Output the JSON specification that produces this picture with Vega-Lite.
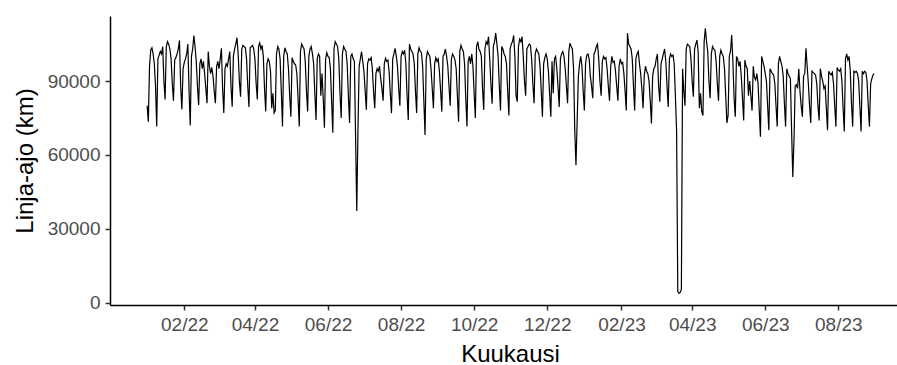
{
"$schema": "https://vega.github.io/schema/vega-lite/v6.json",
"width": 787, "height": 289,
"autosize": {"type": "none"},
"padding": {"left": 110, "top": 16, "right": 0, "bottom": 60},
"background": "white",
"config": {"view": {"stroke": null}, "axis": {"grid": false, "domainColor": "#000000", "domainWidth": 1.5, "tickColor": "#333333", "tickWidth": 1.5, "tickSize": 5, "labelColor": "#4D4D4D", "labelFont": "Liberation Sans", "labelFontSize": 19, "titleFont": "Liberation Sans", "titleFontSize": 24, "titleFontWeight": "normal", "titleColor": "#000000"}},
"data": {"values": [
{"date":"2022-01-01","km":80000},{"date":"2022-01-02","km":73500},{"date":"2022-01-03","km":96000},{"date":"2022-01-04","km":102500},{"date":"2022-01-05","km":103500},{"date":"2022-01-06","km":101000},{"date":"2022-01-07","km":97000},{"date":"2022-01-08","km":88000},{"date":"2022-01-09","km":71500},{"date":"2022-01-10","km":99000},{"date":"2022-01-11","km":100500},{"date":"2022-01-12","km":102000},{"date":"2022-01-13","km":101000},{"date":"2022-01-14","km":104000},{"date":"2022-01-15","km":90000},{"date":"2022-01-16","km":82500},{"date":"2022-01-17","km":104000},{"date":"2022-01-18","km":106000},{"date":"2022-01-19","km":105000},{"date":"2022-01-20","km":103000},{"date":"2022-01-21","km":99000},{"date":"2022-01-22","km":89000},{"date":"2022-01-23","km":82000},{"date":"2022-01-24","km":98500},{"date":"2022-01-25","km":99500},{"date":"2022-01-26","km":101000},{"date":"2022-01-27","km":103000},{"date":"2022-01-28","km":106500},{"date":"2022-01-29","km":88000},{"date":"2022-01-30","km":78500},{"date":"2022-01-31","km":95000},
{"date":"2022-02-01","km":97500},{"date":"2022-02-02","km":99000},{"date":"2022-02-03","km":101000},{"date":"2022-02-04","km":105000},{"date":"2022-02-05","km":86000},{"date":"2022-02-06","km":72000},{"date":"2022-02-07","km":100000},{"date":"2022-02-08","km":103000},{"date":"2022-02-09","km":108500},{"date":"2022-02-10","km":104000},{"date":"2022-02-11","km":98000},{"date":"2022-02-12","km":88000},{"date":"2022-02-13","km":80300},{"date":"2022-02-14","km":97000},{"date":"2022-02-15","km":99000},{"date":"2022-02-16","km":95000},{"date":"2022-02-17","km":98000},{"date":"2022-02-18","km":93000},{"date":"2022-02-19","km":87000},{"date":"2022-02-20","km":81000},{"date":"2022-02-21","km":102000},{"date":"2022-02-22","km":96000},{"date":"2022-02-23","km":93000},{"date":"2022-02-24","km":95500},{"date":"2022-02-25","km":92000},{"date":"2022-02-26","km":86000},{"date":"2022-02-27","km":81000},{"date":"2022-02-28","km":96000},
{"date":"2022-03-01","km":98000},{"date":"2022-03-02","km":95000},{"date":"2022-03-03","km":99000},{"date":"2022-03-04","km":103300},{"date":"2022-03-05","km":87000},{"date":"2022-03-06","km":77000},{"date":"2022-03-07","km":95000},{"date":"2022-03-08","km":97000},{"date":"2022-03-09","km":96000},{"date":"2022-03-10","km":99000},{"date":"2022-03-11","km":102000},{"date":"2022-03-12","km":88000},{"date":"2022-03-13","km":79600},{"date":"2022-03-14","km":100000},{"date":"2022-03-15","km":103000},{"date":"2022-03-16","km":105000},{"date":"2022-03-17","km":107600},{"date":"2022-03-18","km":101000},{"date":"2022-03-19","km":90000},{"date":"2022-03-20","km":83600},{"date":"2022-03-21","km":103000},{"date":"2022-03-22","km":104500},{"date":"2022-03-23","km":104000},{"date":"2022-03-24","km":103500},{"date":"2022-03-25","km":99000},{"date":"2022-03-26","km":88000},{"date":"2022-03-27","km":79500},{"date":"2022-03-28","km":103500},{"date":"2022-03-29","km":104000},{"date":"2022-03-30","km":104500},{"date":"2022-03-31","km":103000},
{"date":"2022-04-01","km":99000},{"date":"2022-04-02","km":89000},{"date":"2022-04-03","km":82500},{"date":"2022-04-04","km":104000},{"date":"2022-04-05","km":105500},{"date":"2022-04-06","km":103000},{"date":"2022-04-07","km":104500},{"date":"2022-04-08","km":100000},{"date":"2022-04-09","km":87000},{"date":"2022-04-10","km":77600},{"date":"2022-04-11","km":97000},{"date":"2022-04-12","km":99000},{"date":"2022-04-13","km":98000},{"date":"2022-04-14","km":94000},{"date":"2022-04-15","km":79000},{"date":"2022-04-16","km":85000},{"date":"2022-04-17","km":77000},{"date":"2022-04-18","km":78000},{"date":"2022-04-19","km":101000},{"date":"2022-04-20","km":104000},{"date":"2022-04-21","km":103000},{"date":"2022-04-22","km":99000},{"date":"2022-04-23","km":86000},{"date":"2022-04-24","km":71500},{"date":"2022-04-25","km":100000},{"date":"2022-04-26","km":103500},{"date":"2022-04-27","km":102000},{"date":"2022-04-28","km":101000},{"date":"2022-04-29","km":95000},{"date":"2022-04-30","km":84000},
{"date":"2022-05-01","km":75500},{"date":"2022-05-02","km":99500},{"date":"2022-05-03","km":98000},{"date":"2022-05-04","km":97000},{"date":"2022-05-05","km":96500},{"date":"2022-05-06","km":93000},{"date":"2022-05-07","km":83000},{"date":"2022-05-08","km":71500},{"date":"2022-05-09","km":102000},{"date":"2022-05-10","km":105000},{"date":"2022-05-11","km":104000},{"date":"2022-05-12","km":103000},{"date":"2022-05-13","km":98000},{"date":"2022-05-14","km":86000},{"date":"2022-05-15","km":77600},{"date":"2022-05-16","km":100000},{"date":"2022-05-17","km":103000},{"date":"2022-05-18","km":104000},{"date":"2022-05-19","km":101000},{"date":"2022-05-20","km":97000},{"date":"2022-05-21","km":85000},{"date":"2022-05-22","km":74200},{"date":"2022-05-23","km":99000},{"date":"2022-05-24","km":101000},{"date":"2022-05-25","km":100000},{"date":"2022-05-26","km":84000},{"date":"2022-05-27","km":93000},{"date":"2022-05-28","km":83000},{"date":"2022-05-29","km":71000},{"date":"2022-05-30","km":99000},{"date":"2022-05-31","km":101500},
{"date":"2022-06-01","km":100000},{"date":"2022-06-02","km":99500},{"date":"2022-06-03","km":95000},{"date":"2022-06-04","km":82000},{"date":"2022-06-05","km":69000},{"date":"2022-06-06","km":103000},{"date":"2022-06-07","km":106000},{"date":"2022-06-08","km":105000},{"date":"2022-06-09","km":104000},{"date":"2022-06-10","km":99000},{"date":"2022-06-11","km":85000},{"date":"2022-06-12","km":75000},{"date":"2022-06-13","km":101000},{"date":"2022-06-14","km":104000},{"date":"2022-06-15","km":103000},{"date":"2022-06-16","km":102000},{"date":"2022-06-17","km":97000},{"date":"2022-06-18","km":84000},{"date":"2022-06-19","km":73000},{"date":"2022-06-20","km":100000},{"date":"2022-06-21","km":101000},{"date":"2022-06-22","km":99000},{"date":"2022-06-23","km":98000},{"date":"2022-06-24","km":68000},{"date":"2022-06-25","km":37200},{"date":"2022-06-26","km":70000},{"date":"2022-06-27","km":96000},{"date":"2022-06-28","km":99000},{"date":"2022-06-29","km":101900},{"date":"2022-06-30","km":98000},
{"date":"2022-07-01","km":94000},{"date":"2022-07-02","km":86000},{"date":"2022-07-03","km":78300},{"date":"2022-07-04","km":97000},{"date":"2022-07-05","km":99000},{"date":"2022-07-06","km":98500},{"date":"2022-07-07","km":99500},{"date":"2022-07-08","km":95000},{"date":"2022-07-09","km":86000},{"date":"2022-07-10","km":79000},{"date":"2022-07-11","km":93000},{"date":"2022-07-12","km":95000},{"date":"2022-07-13","km":94000},{"date":"2022-07-14","km":96000},{"date":"2022-07-15","km":91000},{"date":"2022-07-16","km":87000},{"date":"2022-07-17","km":82000},{"date":"2022-07-18","km":97000},{"date":"2022-07-19","km":99200},{"date":"2022-07-20","km":98000},{"date":"2022-07-21","km":98500},{"date":"2022-07-22","km":94000},{"date":"2022-07-23","km":85000},{"date":"2022-07-24","km":76900},{"date":"2022-07-25","km":99000},{"date":"2022-07-26","km":101000},{"date":"2022-07-27","km":103300},{"date":"2022-07-28","km":100000},{"date":"2022-07-29","km":96000},{"date":"2022-07-30","km":87000},{"date":"2022-07-31","km":80000},
{"date":"2022-08-01","km":100000},{"date":"2022-08-02","km":102000},{"date":"2022-08-03","km":101000},{"date":"2022-08-04","km":102500},{"date":"2022-08-05","km":97000},{"date":"2022-08-06","km":84000},{"date":"2022-08-07","km":74200},{"date":"2022-08-08","km":105000},{"date":"2022-08-09","km":103000},{"date":"2022-08-10","km":102000},{"date":"2022-08-11","km":101000},{"date":"2022-08-12","km":97000},{"date":"2022-08-13","km":86000},{"date":"2022-08-14","km":77000},{"date":"2022-08-15","km":101000},{"date":"2022-08-16","km":103500},{"date":"2022-08-17","km":102000},{"date":"2022-08-18","km":101500},{"date":"2022-08-19","km":96000},{"date":"2022-08-20","km":82000},{"date":"2022-08-21","km":68100},{"date":"2022-08-22","km":99000},{"date":"2022-08-23","km":102000},{"date":"2022-08-24","km":101000},{"date":"2022-08-25","km":100000},{"date":"2022-08-26","km":95000},{"date":"2022-08-27","km":87000},{"date":"2022-08-28","km":79000},{"date":"2022-08-29","km":97000},{"date":"2022-08-30","km":99500},{"date":"2022-08-31","km":98000},
{"date":"2022-09-01","km":99000},{"date":"2022-09-02","km":94000},{"date":"2022-09-03","km":86000},{"date":"2022-09-04","km":77500},{"date":"2022-09-05","km":100000},{"date":"2022-09-06","km":101000},{"date":"2022-09-07","km":103000},{"date":"2022-09-08","km":100000},{"date":"2022-09-09","km":96000},{"date":"2022-09-10","km":88000},{"date":"2022-09-11","km":80000},{"date":"2022-09-12","km":99000},{"date":"2022-09-13","km":101000},{"date":"2022-09-14","km":100000},{"date":"2022-09-15","km":98500},{"date":"2022-09-16","km":95000},{"date":"2022-09-17","km":84000},{"date":"2022-09-18","km":73500},{"date":"2022-09-19","km":102000},{"date":"2022-09-20","km":104500},{"date":"2022-09-21","km":103000},{"date":"2022-09-22","km":102000},{"date":"2022-09-23","km":97000},{"date":"2022-09-24","km":83000},{"date":"2022-09-25","km":71500},{"date":"2022-09-26","km":98000},{"date":"2022-09-27","km":100000},{"date":"2022-09-28","km":97000},{"date":"2022-09-29","km":101000},{"date":"2022-09-30","km":96000},
{"date":"2022-10-01","km":85000},{"date":"2022-10-02","km":75000},{"date":"2022-10-03","km":104000},{"date":"2022-10-04","km":106000},{"date":"2022-10-05","km":103000},{"date":"2022-10-06","km":102000},{"date":"2022-10-07","km":100000},{"date":"2022-10-08","km":87000},{"date":"2022-10-09","km":78300},{"date":"2022-10-10","km":103000},{"date":"2022-10-11","km":106000},{"date":"2022-10-12","km":105000},{"date":"2022-10-13","km":108000},{"date":"2022-10-14","km":99000},{"date":"2022-10-15","km":89000},{"date":"2022-10-16","km":80800},{"date":"2022-10-17","km":104000},{"date":"2022-10-18","km":106000},{"date":"2022-10-19","km":109500},{"date":"2022-10-20","km":105000},{"date":"2022-10-21","km":100000},{"date":"2022-10-22","km":88000},{"date":"2022-10-23","km":78000},{"date":"2022-10-24","km":104000},{"date":"2022-10-25","km":103000},{"date":"2022-10-26","km":101000},{"date":"2022-10-27","km":100000},{"date":"2022-10-28","km":97000},{"date":"2022-10-29","km":86000},{"date":"2022-10-30","km":76000},{"date":"2022-10-31","km":103000},
{"date":"2022-11-01","km":105000},{"date":"2022-11-02","km":106000},{"date":"2022-11-03","km":108500},{"date":"2022-11-04","km":100000},{"date":"2022-11-05","km":84000},{"date":"2022-11-06","km":81600},{"date":"2022-11-07","km":104000},{"date":"2022-11-08","km":107000},{"date":"2022-11-09","km":106000},{"date":"2022-11-10","km":108000},{"date":"2022-11-11","km":100000},{"date":"2022-11-12","km":90000},{"date":"2022-11-13","km":84000},{"date":"2022-11-14","km":103000},{"date":"2022-11-15","km":104000},{"date":"2022-11-16","km":105000},{"date":"2022-11-17","km":104500},{"date":"2022-11-18","km":99000},{"date":"2022-11-19","km":89000},{"date":"2022-11-20","km":81000},{"date":"2022-11-21","km":101000},{"date":"2022-11-22","km":103000},{"date":"2022-11-23","km":102000},{"date":"2022-11-24","km":101000},{"date":"2022-11-25","km":96000},{"date":"2022-11-26","km":86000},{"date":"2022-11-27","km":75500},{"date":"2022-11-28","km":97000},{"date":"2022-11-29","km":99500},{"date":"2022-11-30","km":101000},
{"date":"2022-12-01","km":99000},{"date":"2022-12-02","km":94000},{"date":"2022-12-03","km":85000},{"date":"2022-12-04","km":75500},{"date":"2022-12-05","km":98000},{"date":"2022-12-06","km":85000},{"date":"2022-12-07","km":99000},{"date":"2022-12-08","km":100000},{"date":"2022-12-09","km":95000},{"date":"2022-12-10","km":88000},{"date":"2022-12-11","km":79500},{"date":"2022-12-12","km":99000},{"date":"2022-12-13","km":101000},{"date":"2022-12-14","km":102000},{"date":"2022-12-15","km":100000},{"date":"2022-12-16","km":95000},{"date":"2022-12-17","km":88000},{"date":"2022-12-18","km":81000},{"date":"2022-12-19","km":102000},{"date":"2022-12-20","km":105400},{"date":"2022-12-21","km":104000},{"date":"2022-12-22","km":103000},{"date":"2022-12-23","km":95000},{"date":"2022-12-24","km":70000},{"date":"2022-12-25","km":55800},{"date":"2022-12-26","km":74000},{"date":"2022-12-27","km":92000},{"date":"2022-12-28","km":97000},{"date":"2022-12-29","km":100000},{"date":"2022-12-30","km":96000},{"date":"2022-12-31","km":86000},
{"date":"2023-01-01","km":78000},{"date":"2023-01-02","km":97000},{"date":"2023-01-03","km":100500},{"date":"2023-01-04","km":101000},{"date":"2023-01-05","km":99000},{"date":"2023-01-06","km":92000},{"date":"2023-01-07","km":88000},{"date":"2023-01-08","km":83000},{"date":"2023-01-09","km":101000},{"date":"2023-01-10","km":102000},{"date":"2023-01-11","km":104000},{"date":"2023-01-12","km":105000},{"date":"2023-01-13","km":99000},{"date":"2023-01-14","km":90000},{"date":"2023-01-15","km":84000},{"date":"2023-01-16","km":98000},{"date":"2023-01-17","km":100000},{"date":"2023-01-18","km":99000},{"date":"2023-01-19","km":99500},{"date":"2023-01-20","km":95000},{"date":"2023-01-21","km":88000},{"date":"2023-01-22","km":82000},{"date":"2023-01-23","km":96000},{"date":"2023-01-24","km":100000},{"date":"2023-01-25","km":97500},{"date":"2023-01-26","km":98000},{"date":"2023-01-27","km":94000},{"date":"2023-01-28","km":88000},{"date":"2023-01-29","km":82000},{"date":"2023-01-30","km":96000},{"date":"2023-01-31","km":99000},
{"date":"2023-02-01","km":97000},{"date":"2023-02-02","km":97500},{"date":"2023-02-03","km":93000},{"date":"2023-02-04","km":86000},{"date":"2023-02-05","km":78000},{"date":"2023-02-06","km":109500},{"date":"2023-02-07","km":105000},{"date":"2023-02-08","km":104000},{"date":"2023-02-09","km":103000},{"date":"2023-02-10","km":99000},{"date":"2023-02-11","km":88000},{"date":"2023-02-12","km":78000},{"date":"2023-02-13","km":99000},{"date":"2023-02-14","km":101000},{"date":"2023-02-15","km":102000},{"date":"2023-02-16","km":97000},{"date":"2023-02-17","km":93000},{"date":"2023-02-18","km":87000},{"date":"2023-02-19","km":79000},{"date":"2023-02-20","km":92000},{"date":"2023-02-21","km":96000},{"date":"2023-02-22","km":94000},{"date":"2023-02-23","km":93000},{"date":"2023-02-24","km":90000},{"date":"2023-02-25","km":82000},{"date":"2023-02-26","km":72800},{"date":"2023-02-27","km":92000},{"date":"2023-02-28","km":95000},
{"date":"2023-03-01","km":96000},{"date":"2023-03-02","km":99000},{"date":"2023-03-03","km":101000},{"date":"2023-03-04","km":88000},{"date":"2023-03-05","km":81600},{"date":"2023-03-06","km":97000},{"date":"2023-03-07","km":99000},{"date":"2023-03-08","km":101000},{"date":"2023-03-09","km":103000},{"date":"2023-03-10","km":98000},{"date":"2023-03-11","km":88000},{"date":"2023-03-12","km":79500},{"date":"2023-03-13","km":99000},{"date":"2023-03-14","km":101000},{"date":"2023-03-15","km":100000},{"date":"2023-03-16","km":100500},{"date":"2023-03-17","km":97000},{"date":"2023-03-18","km":84000},{"date":"2023-03-19","km":70000},{"date":"2023-03-20","km":4500},{"date":"2023-03-21","km":3800},{"date":"2023-03-22","km":4200},{"date":"2023-03-23","km":5500},{"date":"2023-03-24","km":95000},{"date":"2023-03-25","km":86000},{"date":"2023-03-26","km":80000},{"date":"2023-03-27","km":103000},{"date":"2023-03-28","km":105000},{"date":"2023-03-29","km":104500},{"date":"2023-03-30","km":104000},{"date":"2023-03-31","km":99000},
{"date":"2023-04-01","km":90000},{"date":"2023-04-02","km":83600},{"date":"2023-04-03","km":103000},{"date":"2023-04-04","km":105000},{"date":"2023-04-05","km":106600},{"date":"2023-04-06","km":102000},{"date":"2023-04-07","km":79000},{"date":"2023-04-08","km":85000},{"date":"2023-04-09","km":77600},{"date":"2023-04-10","km":76000},{"date":"2023-04-11","km":106000},{"date":"2023-04-12","km":111400},{"date":"2023-04-13","km":106000},{"date":"2023-04-14","km":102000},{"date":"2023-04-15","km":90000},{"date":"2023-04-16","km":83000},{"date":"2023-04-17","km":101000},{"date":"2023-04-18","km":104000},{"date":"2023-04-19","km":103000},{"date":"2023-04-20","km":102500},{"date":"2023-04-21","km":98000},{"date":"2023-04-22","km":89000},{"date":"2023-04-23","km":82000},{"date":"2023-04-24","km":100000},{"date":"2023-04-25","km":102500},{"date":"2023-04-26","km":101000},{"date":"2023-04-27","km":100000},{"date":"2023-04-28","km":95000},{"date":"2023-04-29","km":84000},{"date":"2023-04-30","km":73000},
{"date":"2023-05-01","km":76000},{"date":"2023-05-02","km":100000},{"date":"2023-05-03","km":102000},{"date":"2023-05-04","km":108700},{"date":"2023-05-05","km":98000},{"date":"2023-05-06","km":83000},{"date":"2023-05-07","km":75500},{"date":"2023-05-08","km":100000},{"date":"2023-05-09","km":99000},{"date":"2023-05-10","km":96000},{"date":"2023-05-11","km":98000},{"date":"2023-05-12","km":92000},{"date":"2023-05-13","km":83000},{"date":"2023-05-14","km":74000},{"date":"2023-05-15","km":98500},{"date":"2023-05-16","km":96000},{"date":"2023-05-17","km":95000},{"date":"2023-05-18","km":84000},{"date":"2023-05-19","km":90000},{"date":"2023-05-20","km":84000},{"date":"2023-05-21","km":78000},{"date":"2023-05-22","km":96000},{"date":"2023-05-23","km":91500},{"date":"2023-05-24","km":90500},{"date":"2023-05-25","km":93000},{"date":"2023-05-26","km":89000},{"date":"2023-05-27","km":78000},{"date":"2023-05-28","km":67400},{"date":"2023-05-29","km":100000},{"date":"2023-05-30","km":98000},{"date":"2023-05-31","km":96000},
{"date":"2023-06-01","km":93000},{"date":"2023-06-02","km":90000},{"date":"2023-06-03","km":80000},{"date":"2023-06-04","km":70000},{"date":"2023-06-05","km":95000},{"date":"2023-06-06","km":94000},{"date":"2023-06-07","km":93000},{"date":"2023-06-08","km":92500},{"date":"2023-06-09","km":89000},{"date":"2023-06-10","km":80000},{"date":"2023-06-11","km":71500},{"date":"2023-06-12","km":97000},{"date":"2023-06-13","km":100000},{"date":"2023-06-14","km":98000},{"date":"2023-06-15","km":96000},{"date":"2023-06-16","km":92000},{"date":"2023-06-17","km":81000},{"date":"2023-06-18","km":71500},{"date":"2023-06-19","km":95000},{"date":"2023-06-20","km":93000},{"date":"2023-06-21","km":92000},{"date":"2023-06-22","km":91000},{"date":"2023-06-23","km":70000},{"date":"2023-06-24","km":51000},{"date":"2023-06-25","km":66000},{"date":"2023-06-26","km":88000},{"date":"2023-06-27","km":88500},{"date":"2023-06-28","km":87000},{"date":"2023-06-29","km":95000},{"date":"2023-06-30","km":86000},
{"date":"2023-07-01","km":80000},{"date":"2023-07-02","km":75500},{"date":"2023-07-03","km":92000},{"date":"2023-07-04","km":93000},{"date":"2023-07-05","km":103300},{"date":"2023-07-06","km":96000},{"date":"2023-07-07","km":89000},{"date":"2023-07-08","km":80000},{"date":"2023-07-09","km":73000},{"date":"2023-07-10","km":94000},{"date":"2023-07-11","km":93500},{"date":"2023-07-12","km":93000},{"date":"2023-07-13","km":92500},{"date":"2023-07-14","km":89000},{"date":"2023-07-15","km":80000},{"date":"2023-07-16","km":74000},{"date":"2023-07-17","km":95000},{"date":"2023-07-18","km":92000},{"date":"2023-07-19","km":90000},{"date":"2023-07-20","km":87000},{"date":"2023-07-21","km":88000},{"date":"2023-07-22","km":79000},{"date":"2023-07-23","km":70000},{"date":"2023-07-24","km":94000},{"date":"2023-07-25","km":93000},{"date":"2023-07-26","km":92500},{"date":"2023-07-27","km":93500},{"date":"2023-07-28","km":89000},{"date":"2023-07-29","km":80000},{"date":"2023-07-30","km":71500},{"date":"2023-07-31","km":95500},
{"date":"2023-08-01","km":94500},{"date":"2023-08-02","km":94000},{"date":"2023-08-03","km":95000},{"date":"2023-08-04","km":90000},{"date":"2023-08-05","km":79000},{"date":"2023-08-06","km":69500},{"date":"2023-08-07","km":99000},{"date":"2023-08-08","km":101000},{"date":"2023-08-09","km":98500},{"date":"2023-08-10","km":100000},{"date":"2023-08-11","km":94000},{"date":"2023-08-12","km":81000},{"date":"2023-08-13","km":71500},{"date":"2023-08-14","km":94000},{"date":"2023-08-15","km":93500},{"date":"2023-08-16","km":94000},{"date":"2023-08-17","km":93000},{"date":"2023-08-18","km":90000},{"date":"2023-08-19","km":80000},{"date":"2023-08-20","km":69500},{"date":"2023-08-21","km":94000},{"date":"2023-08-22","km":93000},{"date":"2023-08-23","km":94000},{"date":"2023-08-24","km":93500},{"date":"2023-08-25","km":90000},{"date":"2023-08-26","km":80000},{"date":"2023-08-27","km":71500},{"date":"2023-08-28","km":89000},{"date":"2023-08-29","km":91000},{"date":"2023-08-30","km":92500},{"date":"2023-08-31","km":93000}
]},
"mark": {"type": "line", "color": "#000000", "strokeWidth": 1.2},
"encoding": {
"x": {"field": "date", "type": "temporal",
 "scale": {"type": "utc", "domain": [{"year": 2021, "month": 12, "date": 1, "utc": true}, {"year": 2023, "month": 9, "date": 19, "utc": true}]},
 "axis": {"title": "Kuukausi", "format": "%m/%y", "labelOverlap": false, "labelFlush": false, "labelPadding": 5,
  "values": [{"year": 2022, "month": 2, "date": 1, "utc": true}, {"year": 2022, "month": 4, "date": 1, "utc": true}, {"year": 2022, "month": 6, "date": 1, "utc": true}, {"year": 2022, "month": 8, "date": 1, "utc": true}, {"year": 2022, "month": 10, "date": 1, "utc": true}, {"year": 2022, "month": 12, "date": 1, "utc": true}, {"year": 2023, "month": 2, "date": 1, "utc": true}, {"year": 2023, "month": 4, "date": 1, "utc": true}, {"year": 2023, "month": 6, "date": 1, "utc": true}, {"year": 2023, "month": 8, "date": 1, "utc": true}],
  "titleX": 400, "titleY": 56, "titleBaseline": "alphabetic", "titleAlign": "center"}},
"y": {"field": "km", "type": "quantitative",
 "scale": {"domain": [-934, 116403], "nice": false, "zero": false},
 "axis": {"title": "Linja-ajo (km)", "values": [0, 30000, 60000, 90000], "format": "d", "labelPadding": 5,
  "titleX": -85, "titleY": 144.5, "titleBaseline": "middle", "titleAlign": "center", "titleAngle": -90}}
}
}
